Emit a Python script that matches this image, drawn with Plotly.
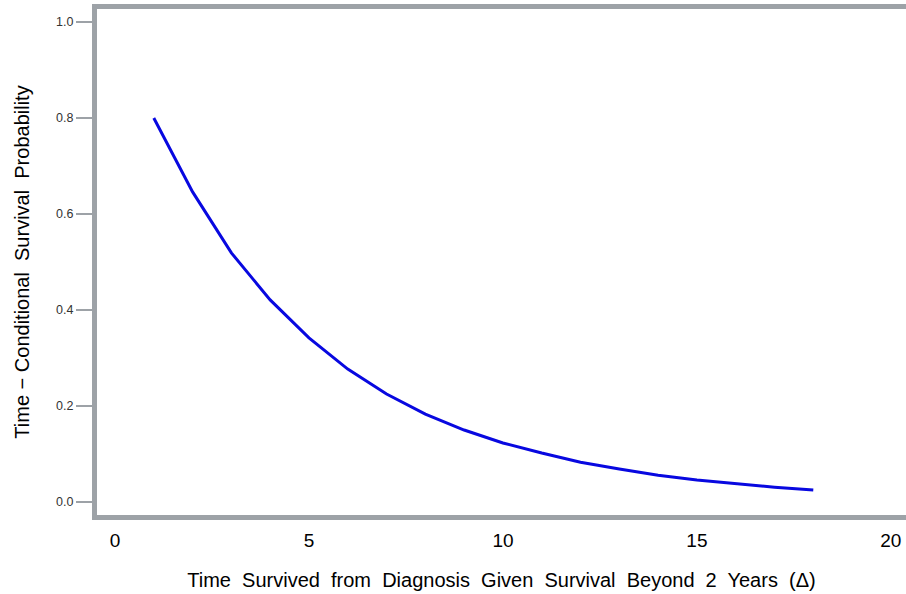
import plotly.graph_objects as go

years = [1, 2, 3, 4, 5, 6, 7, 8, 9, 10, 11, 12, 13, 14, 15, 16, 17, 18]
prob = [0.800, 0.646, 0.519, 0.421, 0.342, 0.277, 0.225, 0.183, 0.150, 0.123,
        0.102, 0.083, 0.069, 0.056, 0.046, 0.038, 0.031, 0.025]

x_ticks = [0, 5, 10, 15, 20]
y_ticks = [0.0, 0.2, 0.4, 0.6, 0.8, 1.0]
y_tick_text = ["0.0", "0.2", "0.4", "0.6", "0.8", "1.0"]

FONT = "Liberation Sans, Arial, sans-serif"
GRAY = "#9da2a7"
W, H = 906, 594
ML, MR, MT, MB = 97, 0, 9, 79
PW, PH = W - ML - MR, H - MT - MB

fig = go.Figure()
fig.add_trace(go.Scatter(x=years, y=prob, mode="lines",
                         line=dict(color="#0808e0", width=3), showlegend=False,
                         cliponaxis=True))

# top border of the frame (drawn as a shape so no right border appears)
fig.add_shape(type="line", xref="paper", yref="paper",
              x0=-5 / PW, x1=1.0, y0=1 + 2.5 / PH, y1=1 + 2.5 / PH,
              line=dict(color=GRAY, width=5), layer="above")

fig.update_layout(
    width=W, height=H,
    margin=dict(l=ML, r=MR, t=MT, b=MB, pad=0),
    paper_bgcolor="white", plot_bgcolor="white",
    font=dict(family=FONT, color="black"),
    xaxis=dict(
        range=[-0.464, 20.39], tickvals=x_ticks, ticktext=[str(v) for v in x_ticks],
        showgrid=False, zeroline=False, showline=True, linecolor=GRAY, linewidth=5,
        mirror=False, ticks="", ticklabelstandoff=4, showspikes=False,
        tickfont=dict(size=19, family=FONT, color="black"),
        title=dict(text="Time  Survived  from  Diagnosis  Given  Survival  Beyond  2  Years  (Δ)",
                   font=dict(size=20, family=FONT, color="black"), standoff=25),
    ),
    yaxis=dict(
        range=[-0.027, 1.027], tickvals=y_ticks, ticktext=y_tick_text,
        showgrid=False, zeroline=False, showline=True, linecolor=GRAY, linewidth=5,
        mirror=False, ticks="outside", ticklen=16, tickwidth=1.5, tickcolor=GRAY,
        tickfont=dict(size=12.5, family=FONT, color="#333333"),
        title=dict(text="Time − Conditional  Survival  Probability",
                   font=dict(size=20, family=FONT, color="black"), standoff=23),
    ),
)

fig.write_html(
    "out.html", config={"displayModeBar": False, "responsive": False},
    post_script="document.body.style.margin='0px';document.body.style.overflow='hidden';"
                "document.documentElement.style.overflow='hidden';"
                "document.body.style.background='white';")
